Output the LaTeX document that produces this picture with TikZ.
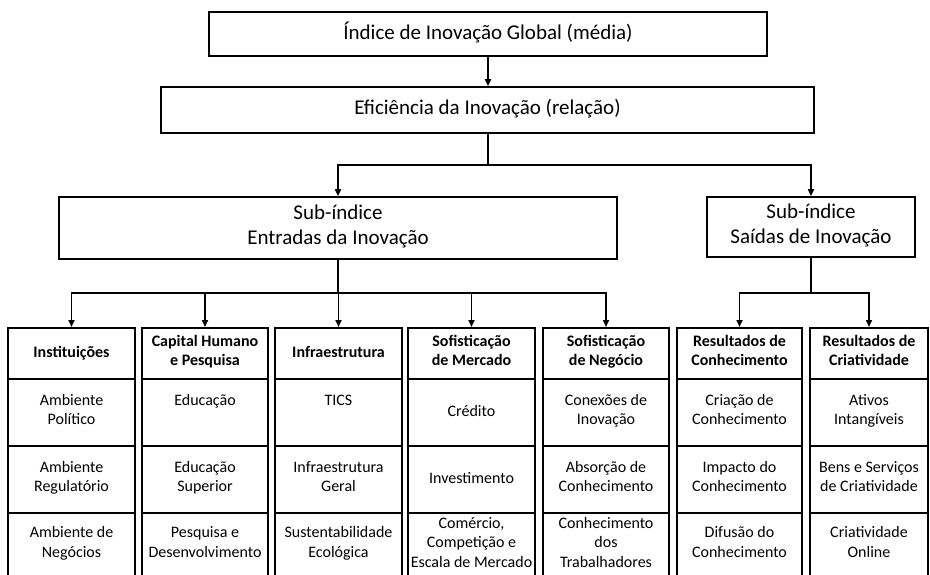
\documentclass[tikz,border=0pt]{standalone}
\usepackage{fontspec}
\setmainfont{Carlito}
\usetikzlibrary{arrows.meta}
\tikzset{
  bigbox/.style={draw, line width=1.6pt, inner sep=0pt, align=center, font=\fontsize{21}{25}\selectfont,
    execute at begin node=\strut, execute at end node=\strut},
  cellbox/.style={draw, line width=2pt, inner sep=0pt, align=center, font=\fontsize{16}{19.5}\selectfont,
    execute at begin node=\strut, execute at end node=\strut},
  headbox/.style={cellbox, font=\fontsize{16}{19.5}\selectfont\bfseries},
  conn/.style={line width=1.6pt},
  arr/.style={conn, -{Triangle[length=7pt,width=6pt]}},
}
\newcommand{\column}[7]{%
  % #1 name, #2 left, #3 right, #4 header, #5 row1, #6 row2, #7 row3
  \node[headbox, minimum width={#3-#2}, minimum height=51] (#1) at ({(#2+#3)/2},353.5) {#4};
  \node[cellbox, minimum width={#3-#2}, minimum height=67] (#1a) at ({(#2+#3)/2},412.5) {#5};
  \node[cellbox, minimum width={#3-#2}, minimum height=67] (#1b) at ({(#2+#3)/2},479.5) {#6};
  \node[cellbox, minimum width={#3-#2}, minimum height=64] (#1c) at ({(#2+#3)/2},545) {#7};
}
\begin{document}
\begin{tikzpicture}[x=1pt,y=-1pt]
\useasboundingbox (0,0) rectangle (930,575);
\clip (0,0) rectangle (930,575);

\node[bigbox, minimum width=558, minimum height=44] (top) at (488,34) {Índice de Inovação Global (média)};
\node[bigbox, minimum width=653, minimum height=46] (eff) at (487.5,110) {Eficiência da Inovação (relação)};
\node[bigbox, minimum width=558, minimum height=62] (subin) at (338,228) {Sub-índice\\Entradas da Inovação};
\node[bigbox, minimum width=208, minimum height=60] (subout) at (811,227) {Sub-índice\\Saídas de Inovação};

\column{h1}{8}{135}{Instituições}{Ambiente\\Político}{Ambiente\\Regulatório}{Ambiente de\\Negócios}
\column{h2}{142}{268}{Capital Humano\\e Pesquisa}{Educação\\}{Educação\\Superior}{Pesquisa e\\Desenvolvimento}
\column{h3}{275}{402}{Infraestrutura}{TICS\\}{Infraestrutura\\Geral}{Sustentabilidade\\Ecológica}
\column{h4}{408}{535}{Sofisticação\\de Mercado}{Crédito}{Investimento}{Comércio,\\Competição e\\Escala de Mercado}
\column{h5}{543}{669}{Sofisticação\\de Negócio}{Conexões de\\Inovação}{Absorção de\\Conhecimento}{Conhecimento\\dos\\Trabalhadores}
\column{h6}{677}{802}{Resultados de\\Conhecimento}{Criação de\\Conhecimento}{Impacto do\\Conhecimento}{Difusão do\\Conhecimento}
\column{h7}{810}{928}{Resultados de\\Criatividade}{Ativos\\Intangíveis}{Bens e Serviços\\de Criatividade}{Criatividade\\Online}

\coordinate (j1) at (0,165);
\coordinate (j2) at (0,293);

\draw[arr] (top.south) -- (top.south |- eff.north);
\draw[conn] (top.south |- eff.south) -- (top.south |- j1);
\draw[arr] (top.south |- j1) -| (subin.north);
\draw[arr] (top.south |- j1) -| (subout.north);

\draw[conn] (subin.south) -- (subin.south |- j2);
\foreach \c in {h1,h2,h3,h4,h5}{
  \draw[arr] (subin.south |- j2) -| (\c.north);
}
\draw[conn] (subout.south) -- (subout.south |- j2);
\foreach \c in {h6,h7}{
  \draw[arr] (subout.south |- j2) -| (\c.north);
}
\end{tikzpicture}
\end{document}
